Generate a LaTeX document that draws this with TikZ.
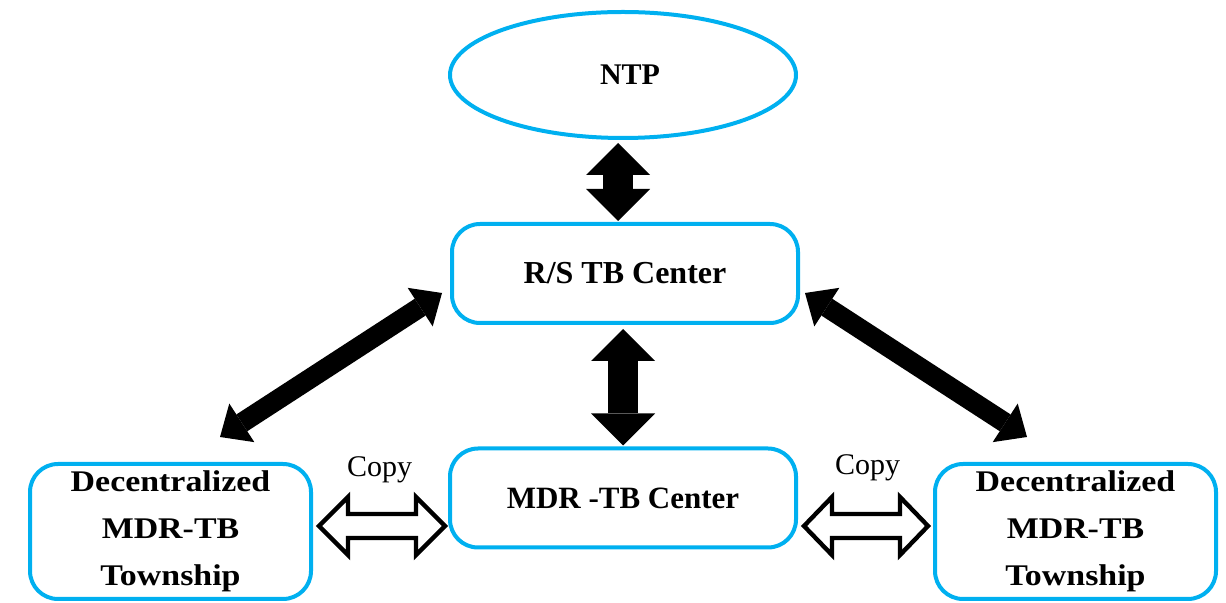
\documentclass[tikz,border=0pt]{standalone}
\usepackage{fontspec}
\setmainfont{Liberation Serif}
\newfontfamily\wideserif{Liberation Serif}[FakeStretch=1.13]
\usetikzlibrary{shapes.geometric,arrows.meta,calc}
\definecolor{skyblue}{RGB}{0,176,240}
\tikzset{
  blueshape/.style={draw=skyblue, line width=2pt, fill=white, inner sep=0pt, align=center},
  centerbox/.style={blueshape, rounded corners=14pt, minimum width=173pt, minimum height=49.5pt,
    font=\bfseries\fontsize{15.5}{18}\selectfont},
  sidebox/.style={blueshape, rounded corners=14pt, minimum width=140.5pt, minimum height=67.5pt,
    font=\wideserif\bfseries\fontsize{15}{23.5}\selectfont},
  fathead/.tip={Triangle[width=32pt,length=16pt,line width=0pt]},
  diaghead/.tip={Triangle[width=23pt,length=13pt,line width=0pt]},
  fatarrow/.style={line width=15pt, fathead-fathead},
  diagarrow/.style={line width=10pt, diaghead-diaghead},
  hollowarrow/.style={draw=black, line width=2.2pt, fill=white, line join=miter},
  copylabel/.style={font=\fontsize{15}{18}\selectfont, anchor=base, inner sep=0pt}
}
\begin{document}
\begin{tikzpicture}[x=0.5pt, y=-0.5pt]
\useasboundingbox (0,0) rectangle (1226,603);

% nodes
\node[blueshape, ellipse, minimum width=173pt, minimum height=63pt,
      font=\bfseries\fontsize{15}{18}\selectfont] (N) at (623,75) {\hspace{7pt}NTP};
\node[centerbox, font=\bfseries\fontsize{16}{18}\selectfont] (RS) at (625,273.5) {R/S TB Center};
\node[centerbox] (M) at (623,498) {MDR -TB Center};
\node[sidebox] (L) at (170.5,531.5) {Decentralized\\MDR-TB\\Township};
\node[sidebox] (R) at (1075.5,531.5) {Decentralized\\MDR-TB\\Township};

% solid double arrows
\draw[fatarrow] ($(N.south)+(-5,3)$) -- ($(RS.north)+(-7,-1)$);
\draw[fatarrow] ($(RS.south)+(-2,4)$) -- ($(M.north)+(0,-1)$);
\draw[diagarrow] ($(RS.south west)+(-8,-32)$) -- ($(L.north)+(49.5,-25)$);
\draw[diagarrow] ($(RS.south east)+(5,-32)$) -- ($(R.north)+(-48.5,-25)$);

% hollow "Copy" arrows
\coordinate (cl) at ($(L.east)+(6,-5.5)$);
\draw[hollowarrow] (cl) -- ++(29,-29) -- ++(0,17) -- ++(68,0) -- ++(0,-17) -- ++(29,29)
  -- ++(-29,29) -- ++(0,-17) -- ++(-68,0) -- ++(0,17) -- cycle;
\coordinate (cr) at ($(M.east)+(6,28)$);
\draw[hollowarrow] (cr) -- ++(28,-29) -- ++(0,17) -- ++(68,0) -- ++(0,-17) -- ++(28,29)
  -- ++(-28,29) -- ++(0,-17) -- ++(-68,0) -- ++(0,17) -- cycle;

\node[copylabel] (copyl) at (379.5,477) {Copy};
\node[copylabel] (copyr) at (867.5,475) {Copy};
\end{tikzpicture}
\end{document}
